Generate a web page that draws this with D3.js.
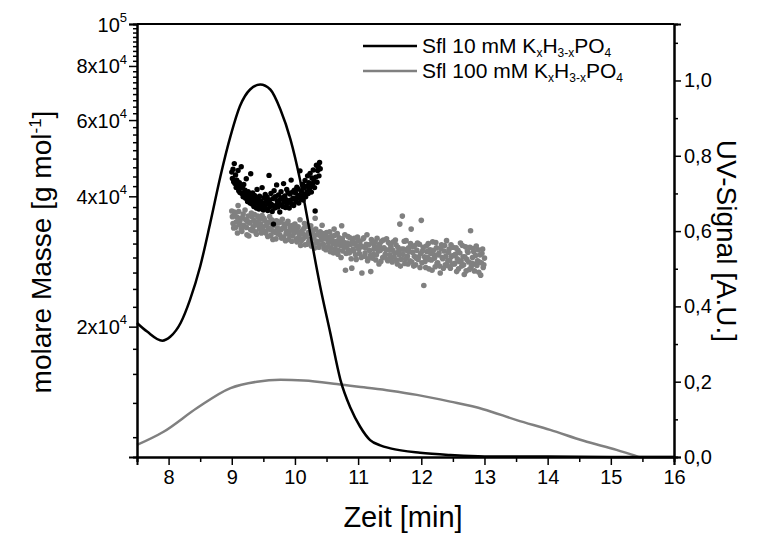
<!DOCTYPE html>
<html lang="de">
  <head>
    <meta charset="utf-8">
    <title>Sfl Molmasse</title>
    <style>
      body { margin: 0; background: #fff; }
      text { font-family: "Liberation Sans", Arial, sans-serif; }
    </style>
  </head>
  <body>
  <script src="https://d3js.org/d3.v7.min.js"></script>

  <svg width="763" height="539"></svg>

  <script type="text/javascript">

    // UV trace, 10 mM buffer: [Zeit (min), UV-Signal]
    var uv10 = [[7.5,0.356],[7.66,0.333],[7.9,0.309],[8.03,0.32],[8.19,0.356],[8.34,0.418],
      [8.5,0.506],[8.66,0.622],[8.82,0.745],[8.98,0.852],[9.13,0.932],[9.29,0.976],
      [9.45,0.989],[9.61,0.976],[9.77,0.923],[9.93,0.843],[10.08,0.737],[10.24,0.595],
      [10.4,0.453],[10.56,0.329],[10.72,0.205],[10.88,0.13],[11.03,0.081],[11.19,0.045],
      [11.35,0.031],[11.51,0.023],[11.98,0.011],[12.46,0.005],[12.9,0.002],[13.25,0.001],
      [14,0.001],[15,0.0],[16,0.0]];

    // UV trace, 100 mM buffer
    var uv100 = [[7.5,0.032],[7.92,0.067],[8.45,0.13],[8.98,0.183],[9.4,0.2],[9.77,0.205],
      [10.14,0.203],[10.66,0.194],[11.09,0.185],[11.51,0.176],[11.93,0.165],[12.46,0.147],
      [12.98,0.127],[13.51,0.098],[14.04,0.072],[14.57,0.043],[15.09,0.019],[15.36,0.005],
      [15.46,0.0],[16,0.0]];

    // molar mass points, 10 mM buffer: [Zeit (min), M in 10^3 g/mol]
    var mass10 = [[9.00,45.5],[9.01,44.0],[9.02,46.2],[9.03,43.2],[9.04,47.6],[9.05,42.8],[9.06,44.8],
      [9.07,41.9],[9.08,43.6],[9.09,42.4],[9.10,45.9],[9.11,41.2],[9.12,43.0],[9.13,40.8],[9.14,42.1],
      [9.15,46.8],[9.16,40.6],[9.17,41.8],[9.18,39.9],[9.19,42.6],[9.20,40.4],[9.21,41.3],[9.22,39.6],
      [9.23,43.9],[9.24,40.1],[9.25,38.9],[9.26,41.0],[9.27,39.4],[9.28,40.6],[9.29,38.6],[9.30,45.1],
      [9.31,39.8],[9.32,38.4],[9.33,40.7],[9.34,39.1],[9.35,37.9],[9.36,40.2],[9.37,38.8],[9.38,39.6],
      [9.39,37.6],[9.40,41.5],[9.41,38.5],[9.42,39.3],[9.43,37.4],[9.44,40.0],[9.45,38.2],[9.46,39.0],
      [9.47,37.8],[9.48,41.9],[9.49,38.6],[9.50,37.2],[9.51,39.7],[9.52,38.0],[9.53,40.4],[9.54,37.5],
      [9.55,38.9],[9.56,39.8],[9.57,37.1],[9.58,38.4],[9.59,44.7],[9.60,39.2],[9.61,37.9],[9.62,40.6],
      [9.63,38.3],[9.64,36.9],[9.65,39.5],[9.66,34.5],[9.67,41.2],[9.68,37.6],[9.69,39.9],[9.70,38.1],
      [9.71,42.5],[9.72,39.0],[9.73,37.8],[9.74,40.3],[9.75,38.6],[9.76,36.8],[9.77,39.4],[9.78,41.0],
      [9.79,38.2],[9.80,39.7],[9.81,37.9],[9.82,42.8],[9.83,38.8],[9.84,40.1],[9.85,37.7],[9.86,39.3],
      [9.87,41.5],[9.88,38.5],[9.89,40.8],[9.90,39.0],[9.91,37.6],[9.92,40.5],[9.93,39.2],[9.94,43.6],
      [9.95,38.4],[9.96,40.9],[9.97,39.6],[9.98,38.1],[9.99,41.3],[10.00,39.4],[10.01,40.7],[10.02,38.9],
      [10.03,42.0],[10.04,39.8],[10.05,41.6],[10.06,38.6],[10.07,40.2],[10.08,45.8],[10.09,39.5],
      [10.10,41.1],[10.11,40.0],[10.12,42.6],[10.13,39.2],[10.14,41.8],[10.15,40.4],[10.16,43.5],
      [10.17,39.9],[10.18,42.2],[10.19,41.0],[10.20,44.6],[10.21,40.6],[10.22,43.0],[10.23,41.7],
      [10.24,45.2],[10.25,42.4],[10.26,40.9],[10.27,44.1],[10.28,42.8],[10.29,46.0],[10.30,43.4],
      [10.31,41.9],[10.32,37.0],[10.33,44.3],[10.34,47.2],[10.35,43.1],[10.36,45.9],[10.37,46.8],
      [10.38,44.6],[10.39,47.9],[10.40,46.3]];

    // molar mass points, 100 mM buffer (even hundredths)
    var mass100 = [[9.00,37.0],[9.02,34.6],[9.04,36.8],[9.06,33.9],[9.08,35.8],[9.10,38.1],[9.12,34.4],
      [9.14,35.6],[9.16,33.2],[9.18,36.4],[9.20,34.1],[9.22,35.3],[9.24,32.6],[9.26,36.0],[9.28,34.7],
      [9.30,33.5],[9.32,35.9],[9.34,34.0],[9.36,36.3],[9.38,33.1],[9.40,34.9],[9.42,35.8],[9.44,33.6],
      [9.46,34.5],[9.48,36.1],[9.50,33.4],[9.52,35.2],[9.54,32.9],[9.56,34.6],[9.58,33.7],[9.60,35.9],
      [9.62,32.5],[9.64,34.1],[9.66,33.2],[9.68,35.0],[9.70,31.9],[9.72,33.8],[9.74,34.7],[9.76,32.6],
      [9.78,33.5],[9.80,35.4],[9.82,32.2],[9.84,33.9],[9.86,32.8],[9.88,34.6],[9.90,31.8],[9.92,33.3],
      [9.94,34.2],[9.96,32.4],[9.98,33.6],[10.00,34.5],[10.02,31.9],[10.04,33.2],[10.06,32.1],
      [10.08,35.3],[10.10,31.6],[10.12,32.8],[10.14,33.7],[10.16,30.9],[10.18,32.5],[10.20,34.1],
      [10.22,31.4],[10.24,32.9],[10.26,30.7],[10.28,33.4],[10.30,32.0],[10.32,35.6],[10.34,31.2],
      [10.36,32.6],[10.38,30.5],[10.40,33.1],[10.42,31.7],[10.44,32.8],[10.46,30.3],[10.48,31.9],
      [10.50,33.0],[10.52,30.6],[10.54,31.9],[10.56,29.8],[10.58,32.4],[10.60,31.1],[10.62,33.6],
      [10.64,30.2],[10.66,31.5],[10.68,29.4],[10.70,32.1],[10.72,30.8],[10.74,34.2],[10.76,29.9],
      [10.78,31.3],[10.80,27.0],[10.82,30.5],[10.84,32.3],[10.86,29.6],[10.88,31.0],[10.90,27.3],
      [10.92,30.2],[10.94,32.0],[10.96,29.3],[10.98,30.7],[11.00,31.6],[11.02,29.5],[11.04,30.8],
      [11.06,26.6],[11.08,31.9],[11.10,29.1],[11.12,30.4],[11.14,32.6],[11.16,28.7],[11.18,30.0],
      [11.20,26.8],[11.22,31.2],[11.24,29.4],[11.26,30.7],[11.28,28.5],[11.30,32.0],[11.32,29.9],
      [11.34,31.0],[11.36,28.3],[11.38,30.3],[11.40,31.7],[11.42,29.0],[11.44,30.1],[11.46,28.6],
      [11.48,31.3],[11.50,29.3],[11.52,30.6],[11.54,28.2],[11.56,31.4],[11.58,29.6],[11.60,30.9],
      [11.62,27.9],[11.64,29.8],[11.66,34.5],[11.68,28.6],[11.70,36.0],[11.72,30.2],[11.74,28.0],
      [11.76,31.6],[11.78,29.1],[11.80,30.4],[11.82,28.4],[11.84,33.6],[11.86,29.7],[11.88,27.6],
      [11.90,30.8],[11.92,28.8],[11.94,31.2],[11.96,29.0],[11.98,27.4],[12.00,35.2],[12.02,29.9],
      [12.04,24.9],[12.06,28.3],[12.08,30.7],[12.10,28.9],[12.12,27.2],[12.14,30.1],[12.16,28.5],
      [12.18,31.4],[12.20,29.3],[12.22,27.5],[12.24,30.4],[12.26,28.1],[12.28,29.6],[12.30,26.6],
      [12.32,30.9],[12.34,28.7],[12.36,29.9],[12.38,27.8],[12.40,31.6],[12.42,28.4],[12.44,30.2],
      [12.46,27.3],[12.48,29.1],[12.50,30.5],[12.52,27.9],[12.54,29.4],[12.56,26.8],[12.58,30.0],
      [12.60,28.3],[12.62,31.2],[12.64,27.6],[12.66,29.0],[12.68,26.4],[12.70,30.6],[12.72,28.6],
      [12.74,29.7],[12.76,27.1],[12.78,33.3],[12.80,28.0],[12.82,30.3],[12.84,26.9],[12.86,29.2],
      [12.88,27.7],[12.90,30.1],[12.92,28.2],[12.94,26.3],[12.96,29.5],[12.98,27.4],[13.00,28.8]];

    // molar mass points, 100 mM buffer (odd hundredths)
    var mass100b = [[9.01,35.9],[9.03,33.8],[9.05,36.5],[9.07,34.9],[9.09,32.9],[9.11,36.9],[9.13,35.1],
      [9.15,33.6],[9.17,35.7],[9.19,34.3],[9.21,37.2],[9.23,33.9],[9.25,35.0],[9.27,32.4],[9.29,34.8],
      [9.31,36.6],[9.33,33.3],[9.35,35.2],[9.37,34.4],[9.39,32.7],[9.41,36.0],[9.43,34.1],[9.45,35.4],
      [9.47,32.9],[9.49,34.0],[9.51,35.6],[9.53,33.1],[9.55,34.3],[9.57,32.3],[9.59,34.9],[9.61,33.5],
      [9.63,35.3],[9.65,31.8],[9.67,34.4],[9.69,33.0],[9.71,35.1],[9.73,32.8],[9.75,33.6],[9.77,34.9],
      [9.79,32.0],[9.81,33.8],[9.83,34.5],[9.85,31.6],[9.87,33.2],[9.89,35.0],[9.91,32.6],[9.93,33.9],
      [9.95,31.5],[9.97,34.3],[9.99,32.9],[10.01,33.5],[10.03,31.4],[10.05,34.0],[10.07,32.6],
      [10.09,30.8],[10.11,33.3],[10.13,31.9],[10.15,34.6],[10.17,32.3],[10.19,31.0],[10.21,33.0],
      [10.23,31.8],[10.25,34.2],[10.27,31.1],[10.29,32.7],[10.31,30.4],[10.33,33.6],[10.35,31.5],
      [10.37,32.9],[10.39,30.9],[10.41,32.3],[10.43,34.3],[10.45,31.0],[10.47,32.5],[10.49,30.1],
      [10.51,32.2],[10.53,31.3],[10.55,33.1],[10.57,30.4],[10.59,31.7],[10.61,29.6],[10.63,32.5],
      [10.65,30.9],[10.67,32.8],[10.69,30.0],[10.71,31.4],[10.73,28.9],[10.75,31.9],[10.77,30.6],
      [10.79,32.6],[10.81,29.5],[10.83,31.2],[10.85,30.0],[10.87,32.1],[10.89,28.7],[10.91,31.5],
      [10.93,29.9],[10.95,31.1],[10.97,28.6],[10.99,32.2],[11.01,30.2],[11.03,31.5],[11.05,28.9],
      [11.07,30.6],[11.09,32.1],[11.11,29.6],[11.13,31.0],[11.15,28.4],[11.17,30.9],[11.19,29.2],
      [11.21,31.8],[11.23,28.8],[11.25,30.2],[11.27,31.4],[11.29,29.3],[11.31,30.5],[11.33,27.9],
      [11.35,30.0],[11.37,31.5],[11.39,28.9],[11.41,30.4],[11.43,29.4],[11.45,31.9],[11.47,28.4],
      [11.49,30.1],[11.51,31.0],[11.53,28.8],[11.55,30.0],[11.57,29.0],[11.59,31.7],[11.61,28.5],
      [11.63,30.5],[11.65,29.3],[11.67,27.6],[11.69,30.2],[11.71,29.4],[11.73,31.5],[11.75,28.7],
      [11.77,30.0],[11.79,27.9],[11.81,29.8],[11.83,31.1],[11.85,28.2],[11.87,30.6],[11.89,29.1],
      [11.91,27.8],[11.93,30.0],[11.95,28.6],[11.97,31.0],[11.99,29.5],[12.01,28.1],[12.03,30.5],
      [12.05,29.0],[12.07,27.4],[12.09,29.8],[12.11,31.1],[12.13,28.6],[12.15,29.5],[12.17,27.0],
      [12.19,30.0],[12.21,28.8],[12.23,31.3],[12.25,28.0],[12.27,29.3],[12.29,27.6],[12.31,30.3],
      [12.33,28.9],[12.35,27.3],[12.37,30.8],[12.39,29.1],[12.41,27.7],[12.43,29.7],[12.45,28.5],
      [12.47,30.9],[12.49,27.9],[12.51,29.2],[12.53,28.0],[12.55,30.4],[12.57,28.7],[12.59,27.2],
      [12.61,29.6],[12.63,28.4],[12.65,30.8],[12.67,27.8],[12.69,29.0],[12.71,26.9],[12.73,29.9],
      [12.75,28.2],[12.77,30.5],[12.79,27.5],[12.81,28.9],[12.83,29.8],[12.85,27.9],[12.87,30.7],
      [12.89,28.4],[12.91,26.7],[12.93,29.3],[12.95,28.1],[12.97,30.2],[12.99,27.8]];

    var xTicks = [8, 9, 10, 11, 12, 13, 14, 15, 16];
    var massTicks = [20000, 40000, 60000, 80000, 100000];
    var uvTicks = [0, 0.2, 0.4, 0.6, 0.8, 1.0];

    var svg = d3.select("svg");
    var plotL = 137, plotR = 674, plotT = 24, plotB = 457;
    var grey = "#808080";

    var x = d3.scaleLinear().domain([7.5, 16]).range([plotL, plotR]);
    var yM = d3.scaleLog().domain([1e4, 1e5]).range([plotB, plotT]);
    var yUV = d3.scaleLinear().domain([0, 1.15]).range([plotB, plotT]);

    // scatter first, lines go on top
    svg.append("g").selectAll("circle")
        .data(mass100.concat(mass100b)).enter().append("circle")
        .attr("cx", function(d) { return x(d[0]); })
        .attr("cy", function(d) { return yM(d[1] * 1000); })
        .attr("r", 2.8)
        .attr("fill", grey);

    svg.append("g").selectAll("circle")
        .data(mass10).enter().append("circle")
        .attr("cx", function(d) { return x(d[0]); })
        .attr("cy", function(d) { return yM(d[1] * 1000); })
        .attr("r", 2.7)
        .attr("fill", "#000");

    var line = d3.line()
        .x(function(d) { return x(d[0]); })
        .y(function(d) { return yUV(d[1]); })
        .curve(d3.curveMonotoneX);

    svg.append("path").attr("d", line(uv100))
        .attr("fill", "none").attr("stroke", grey).attr("stroke-width", 2.5);
    svg.append("path").attr("d", line(uv10))
        .attr("fill", "none").attr("stroke", "#000").attr("stroke-width", 2.5);

    // axes
    function styleAxis(g) {
      g.attr("font-size", 20).attr("font-family", "Liberation Sans, Arial, sans-serif");
      g.select(".domain").attr("stroke-width", 2);
      g.selectAll(".tick line").attr("stroke-width", 1.5);
      g.selectAll(".tick text").attr("fill", "#000");
    }

    // bottom
    var xMinor = [7.5, 8.5, 9.5, 10.5, 11.5, 12.5, 13.5, 14.5, 15.5];
    svg.append("g").attr("transform", "translate(0," + plotB + ")")
        .call(d3.axisBottom(x).tickValues(xMinor).tickSize(5).tickFormat(""))
        .call(styleAxis);
    svg.append("g").attr("transform", "translate(0," + plotB + ")")
        .call(d3.axisBottom(x).tickValues(xTicks).tickSize(8).tickPadding(5).tickFormat(d3.format("d")))
        .call(styleAxis);

    // top frame
    svg.append("line").attr("x1", plotL).attr("x2", plotR).attr("y1", plotT).attr("y2", plotT)
        .attr("stroke", "#000").attr("stroke-width", 2);

    // left, log: 8 minor ticks between the labelled steps of 2x10^4
    var mMinor = [];
    [0, 2e4, 4e4, 6e4, 8e4].forEach(function(b) {
      for (var k = 1; k <= 8; k++) {
        var v = b + k * 2e4 / 9;
        if (v > 1e4) mMinor.push(v);
      }
    });
    svg.append("g").attr("transform", "translate(" + plotL + ",0)")
        .call(d3.axisLeft(yM).tickValues(mMinor).tickSize(4).tickFormat(""))
        .call(styleAxis);
    var gl = svg.append("g").attr("transform", "translate(" + plotL + ",0)")
        .call(d3.axisLeft(yM).tickValues(massTicks).tickSize(8).tickPadding(4).tickFormat(""))
        .call(styleAxis);
    gl.selectAll(".tick text").each(function(d) {
      var t = d3.select(this).attr("dy", "0.35em").attr("x", -10);
      var e = Math.floor(Math.log10(d) + 1e-9);
      var m = Math.round(d / Math.pow(10, e));
      t.append("tspan").text(m === 1 ? "10" : m + "x10");
      t.append("tspan").attr("font-size", 13).attr("dy", "-0.75em").text(e);
    });

    // right, linear UV
    svg.append("g").attr("transform", "translate(" + plotR + ",0)")
        .call(d3.axisRight(yUV).tickValues([0.1, 0.3, 0.5, 0.7, 0.9, 1.1]).tickSize(4).tickFormat(""))
        .call(styleAxis);
    svg.append("g").attr("transform", "translate(" + plotR + ",0)")
        .call(d3.axisRight(yUV).tickValues(uvTicks).tickSize(7).tickPadding(3)
          .tickFormat(function(d) { return d3.format(".1f")(d).replace(".", ","); }))
        .call(styleAxis);

    // axis titles
    svg.append("text").attr("x", 403).attr("y", 527).attr("text-anchor", "middle")
        .attr("font-size", 29).text("Zeit [min]");

    var lt = svg.append("text").attr("transform", "translate(51,252) rotate(-90)")
        .attr("text-anchor", "middle").attr("font-size", 28);
    lt.append("tspan").text("molare Masse [g mol");
    lt.append("tspan").attr("font-size", 17).attr("dy", "-0.6em").text("-1");
    lt.append("tspan").attr("dy", "0.4em").text("]");

    svg.append("text").attr("transform", "translate(717,241) rotate(90)")
        .attr("text-anchor", "middle").attr("font-size", 28).text("UV-Signal [A.U.]");

    // legend
    var legend = [["Sfl 10 mM ", "#000"], ["Sfl 100 mM ", grey]];
    legend.forEach(function(l, i) {
      var ly = 46 + i * 25;
      svg.append("line").attr("x1", 363).attr("x2", 417).attr("y1", ly).attr("y2", ly)
          .attr("stroke", l[1]).attr("stroke-width", 2.5);
      var t = svg.append("text").attr("x", 422).attr("y", ly + 7).attr("font-size", 21);
      t.append("tspan").text(l[0] + "K");
      t.append("tspan").attr("font-size", 12).attr("dy", 4).text("x");
      t.append("tspan").attr("dy", -4).text("H");
      t.append("tspan").attr("font-size", 12).attr("dy", 4).text("3-x");
      t.append("tspan").attr("dy", -4).text("PO");
      t.append("tspan").attr("font-size", 12).attr("dy", 4).text("4");
    });

  </script>
  </body>
</html>
